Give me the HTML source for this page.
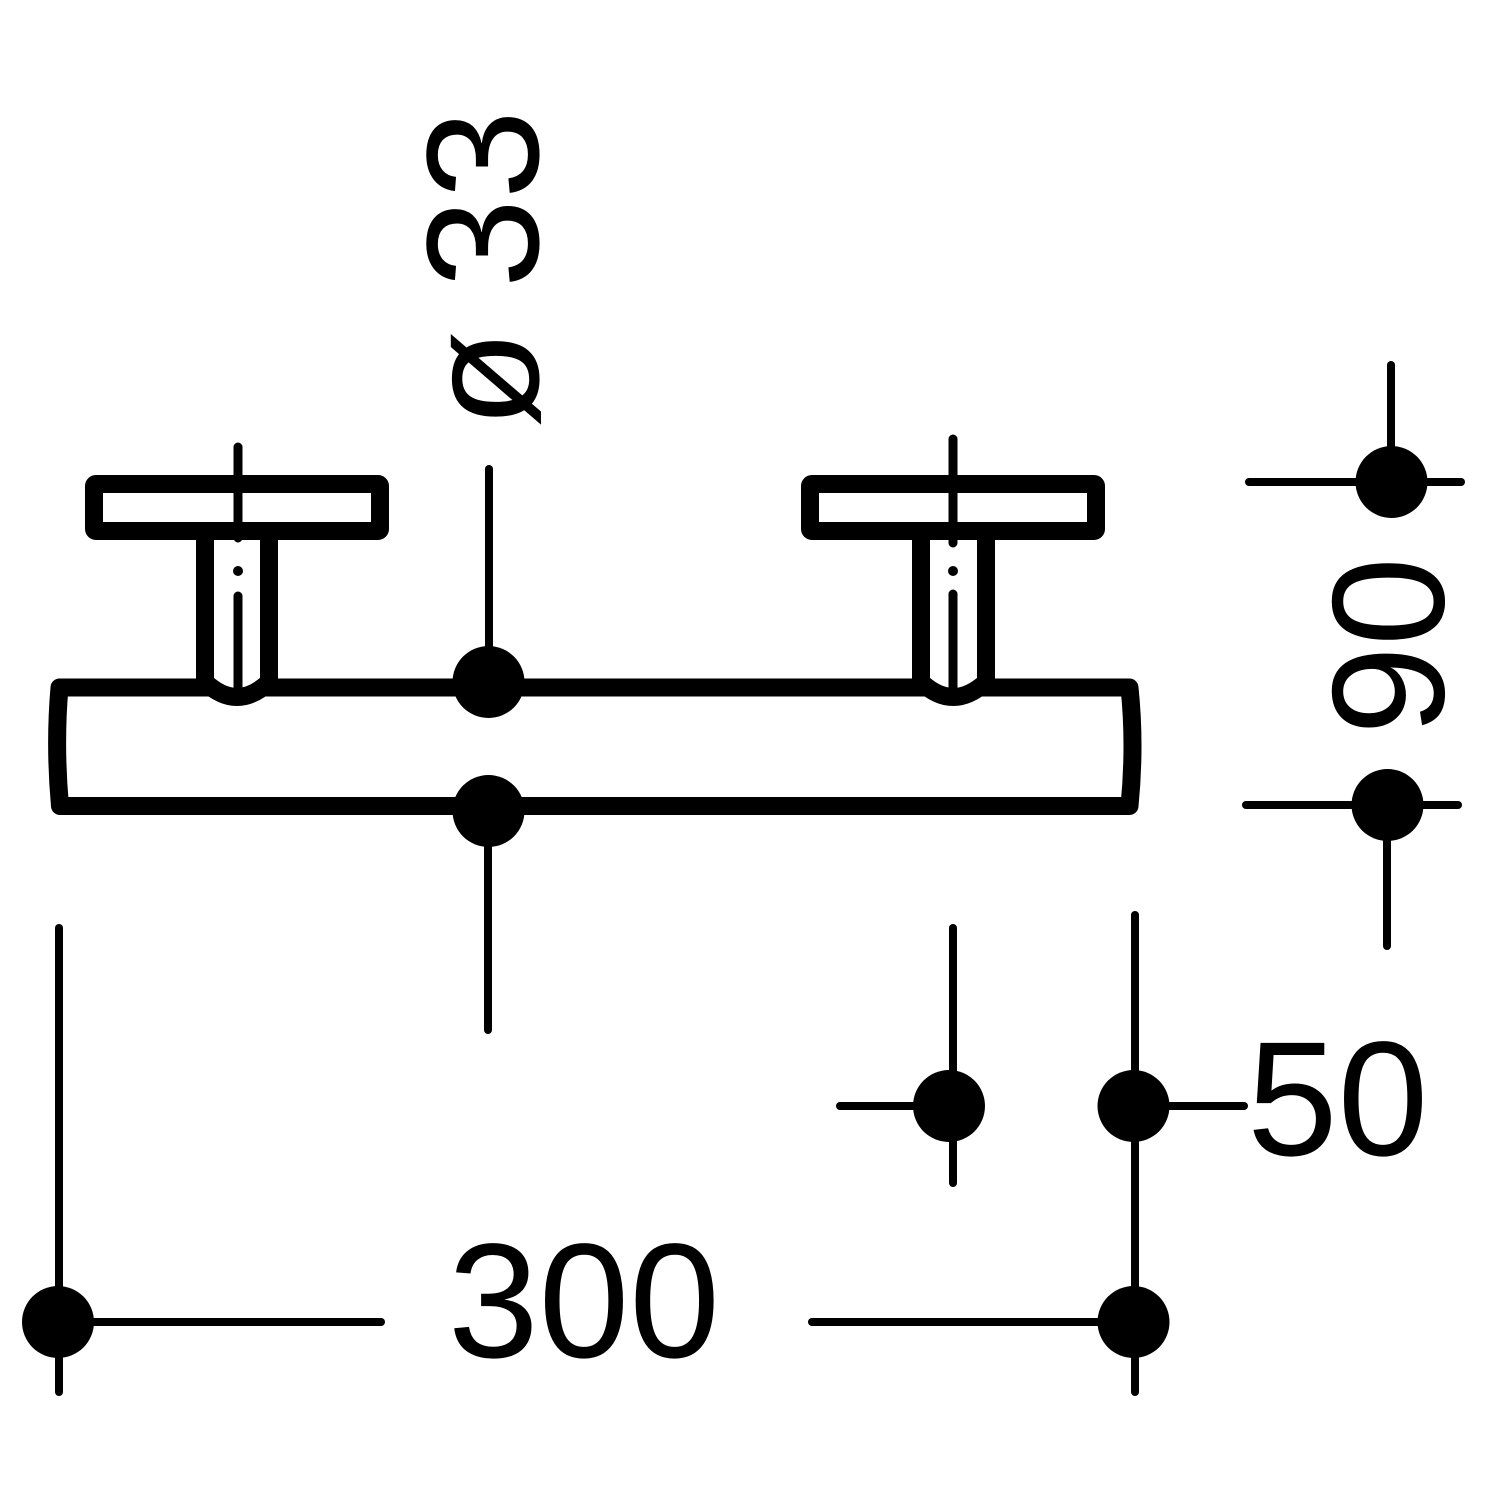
<!DOCTYPE html>
<html>
<head>
<meta charset="utf-8">
<style>
html,body{margin:0;padding:0;background:#fff;width:1500px;height:1500px;overflow:hidden}
svg{display:block}
text{font-family:"Liberation Sans",sans-serif;font-size:160px;fill:#000}
text.h{font-size:163px}
</style>
</head>
<body>
<svg width="1500" height="1500" viewBox="0 0 1500 1500" xmlns="http://www.w3.org/2000/svg">
<rect width="1500" height="1500" fill="#fff"/>
<g fill="none" stroke="#000" stroke-linecap="round" stroke-linejoin="round">
  <!-- body -->
  <path d="M59.500 687.500H1129.500Q1135.500 745 1129.500 806H60Q54.500 745 59.500 687.500Z" stroke-width="18"/>
  <!-- left handle -->
  <g>
    <path d="M205 535V682Q237 712 269 682V535" stroke-width="18" fill="#fff"/>
    <rect x="94" y="484" width="286" height="47" rx="2" stroke-width="18" fill="#fff"/>
    <path d="M238 447V538M238 596V688" stroke-width="9"/>
  </g>
  <!-- right handle -->
  <g>
    <path d="M921 535V682Q953 712 986 682V535" stroke-width="18" fill="#fff"/>
    <rect x="810" y="484" width="286" height="47" rx="2" stroke-width="18" fill="#fff"/>
    <path d="M953 439V543M953 594V688" stroke-width="9"/>
  </g>
  <!-- dimension lines -->
  <g stroke-width="8">
    <path d="M489 469V682"/>
    <path d="M488 811V1030"/>
    <path d="M1391 365V482"/>
    <path d="M1249 482H1461"/>
    <path d="M1246 805H1458"/>
    <path d="M1387 805V946"/>
    <path d="M840 1106H949"/>
    <path d="M953 928V1183"/>
    <path d="M1135 915V1392"/>
    <path d="M1133 1106H1244"/>
    <path d="M59 928V1392"/>
    <path d="M58 1322H381"/>
    <path d="M812 1322H1133"/>
  </g>
</g>
<g fill="#000">
  <circle cx="238" cy="571" r="5"/>
  <circle cx="953" cy="571" r="5"/>
  <circle cx="488.500" cy="682" r="36"/>
  <circle cx="488.500" cy="811" r="36"/>
  <circle cx="1391.500" cy="482" r="36"/>
  <circle cx="1387.500" cy="805" r="36"/>
  <circle cx="949" cy="1106" r="36"/>
  <circle cx="1133.500" cy="1106" r="36"/>
  <circle cx="58" cy="1322" r="36"/>
  <circle cx="1133.500" cy="1322" r="36"/>
</g>
<text class="h" x="448" y="1357">300</text>
<text class="h" x="1247" y="1155">50</text>
<text transform="translate(538 288) rotate(-90)">33</text>
<text transform="translate(538 428) rotate(-90)">ø</text>
<text transform="translate(1443.500 735) rotate(-90)">90</text>
</svg>
</body>
</html>
